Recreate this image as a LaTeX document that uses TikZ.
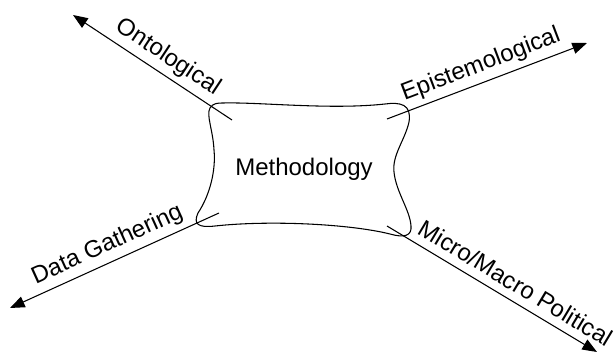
\documentclass[tikz,border=0pt]{standalone}
\usepackage{fontspec}
\setmainfont{Liberation Sans}
\usetikzlibrary
  {
    arrows.meta,              % filled triangle arrow heads
    positioning,              % place nodes relative to other nodes
  }

\begin{document}
\begin{tikzpicture}[x=0.75pt, y=-0.75pt,
    axis/.style={line width=0.8pt, -{Triangle[length=11pt,width=8.5pt]}},
    axislabel/.style={sloped, above=2pt, inner sep=2pt, font=\fontsize{18}{20}\selectfont}]
    \useasboundingbox (0,0) rectangle (614,353);

    \node (M) [font=\fontsize{18}{20}\selectfont] at (304,169) {Methodology};

    % the blob round the centre
    \draw [line width=0.8pt] (223,103)
      .. controls (260,102) and (330,110) .. (385,104)
      .. controls (400,102) and (412,104) .. (409,122)
      .. controls (405,140) and (392,155) .. (394,172)
      .. controls (396,192) and (410,210) .. (411,226)
      .. controls (412,236) and (404,238) .. (390,234)
      .. controls (350,224) and (270,220) .. (215,226)
      .. controls (198,228) and (193,224) .. (198,213)
      .. controls (210,195) and (216,170) .. (214,150)
      .. controls (213,130) and (206,115) .. (210,108)
      .. controls (213,103) and (218,103) .. (223,103) -- cycle;

    \coordinate (onto) at (232,120);
    \coordinate (epis) at (387,119);
    \coordinate (data) at (219,213);
    \coordinate (micro) at (387,226);

    \coordinate (onto end) at (73,15);
    \coordinate (epis end) at (587,43);
    \coordinate (data end) at (10,308);
    \coordinate (micro end) at (597,352);

    \draw [axis, {Triangle[length=11pt,width=8.5pt]}-] (onto end) -- (onto)
      node [axislabel, pos=0.54] {Ontological};
    \draw [axis] (epis) -- (epis end)
      node [axislabel, pos=0.5] {Epistemological};
    \draw [axis, {Triangle[length=11pt,width=8.5pt]}-] (data end) -- (data)
      node [axislabel, pos=0.5] {Data Gathering};
    \draw [axis] (micro) -- (micro end)
      node [axislabel, pos=0.57, above=4pt] {Micro/Macro Political};
\end{tikzpicture}
\end{document}
